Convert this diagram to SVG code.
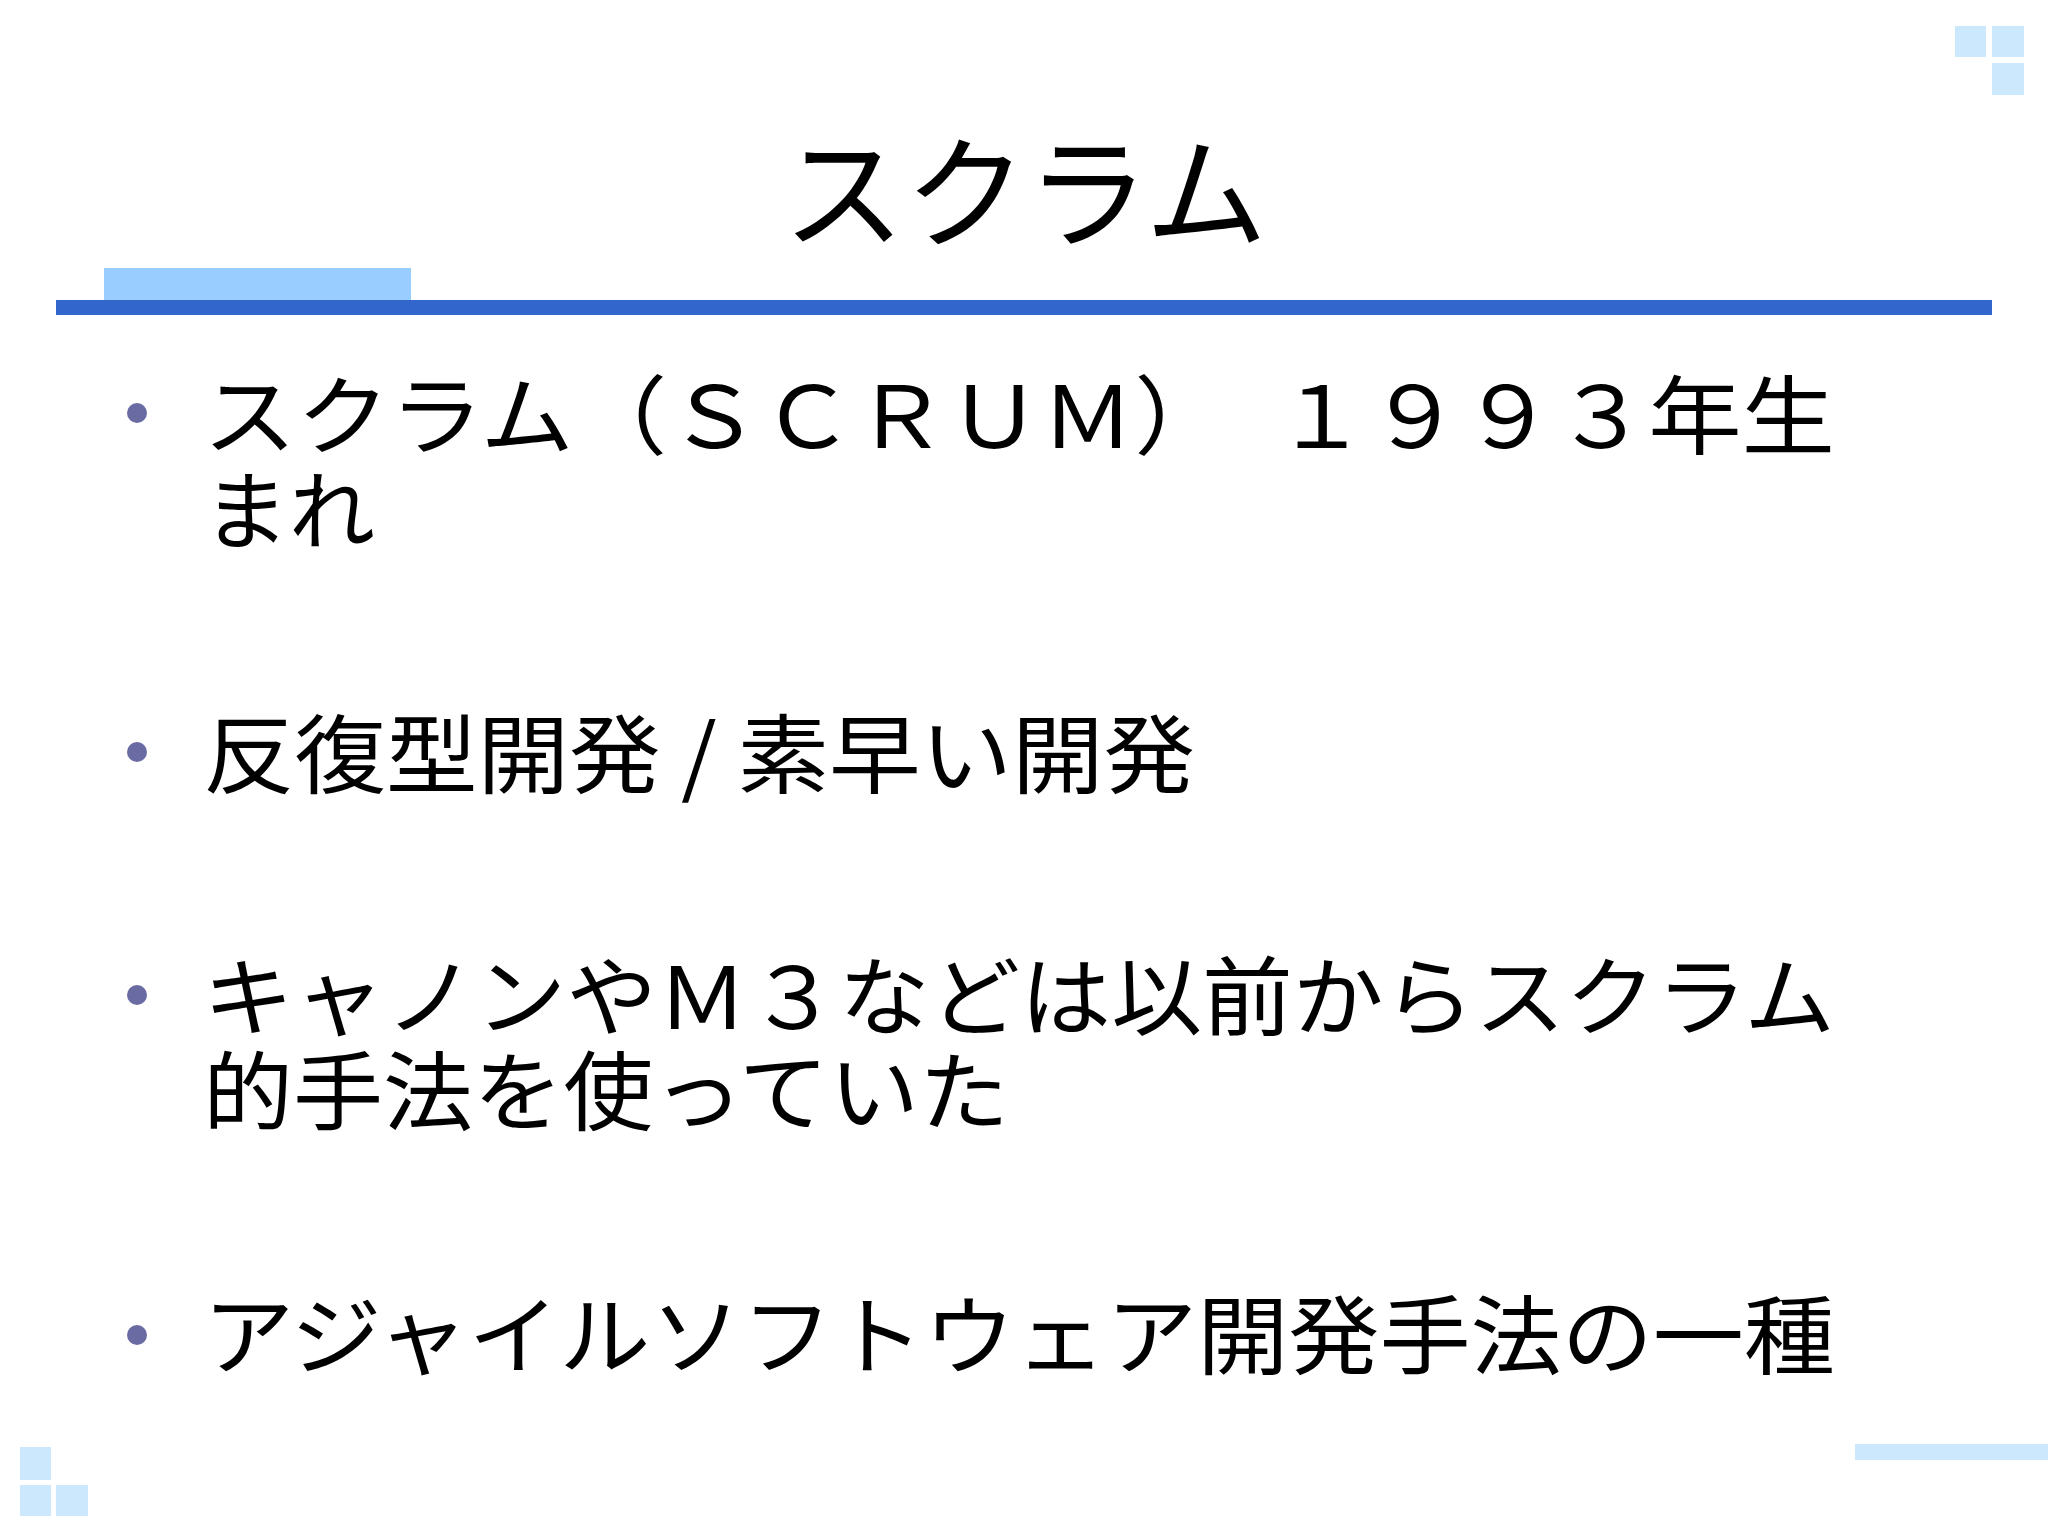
<svg xmlns="http://www.w3.org/2000/svg" width="2048" height="1536" viewBox="0 0 2048 1536">
<style>
.t{font-family:"Noto Sans CJK JP","Liberation Sans",sans-serif;fill:#000}
.b{font-size:86px}
.sq{fill:#cce8fc}
.dot{fill:#6b6ba3}
</style>
<rect width="2048" height="1536" fill="#fff"/>
<g id="deco">
<rect class="sq" x="1955" y="26" width="31" height="31"/>
<rect class="sq" x="1992" y="26" width="32" height="31"/>
<rect class="sq" x="1992" y="63" width="32" height="32"/>
<rect class="sq" x="20" y="1447" width="31" height="33"/>
<rect class="sq" x="20" y="1485" width="31" height="31"/>
<rect class="sq" x="56" y="1485" width="32" height="31"/>
<rect class="sq" x="1855" y="1444" width="193" height="16"/>
<rect x="104" y="268" width="307" height="33" fill="#99ccff"/>
<rect x="56" y="300" width="1936" height="15" fill="#3366cc"/>
</g>
<g id="title"><text class="t" x="1025" y="238" font-size="122" text-anchor="middle">スクラム</text></g>
<g id="bullets">
<circle class="dot" cx="137" cy="413" r="10"/>
<circle class="dot" cx="137" cy="752" r="10"/>
<circle class="dot" cx="137" cy="995" r="10"/>
<circle class="dot" cx="137" cy="1335" r="10"/>
<text class="t b" x="203" y="448" textLength="1632" lengthAdjust="spacingAndGlyphs">スクラム（ＳＣＲＵＭ）　１９９３年生</text>
<text class="t b" x="203" y="543">まれ</text>
<text class="t b" x="203" y="787" textLength="992" lengthAdjust="spacingAndGlyphs">反復型開発 / 素早い開発</text>
<text class="t b" x="203" y="1029" textLength="1632" lengthAdjust="spacingAndGlyphs">キャノンやＭ３などは以前からスクラム</text>
<text class="t b" x="203" y="1124" textLength="806" lengthAdjust="spacingAndGlyphs">的手法を使っていた</text>
<text class="t b" x="203" y="1368" textLength="1632" lengthAdjust="spacingAndGlyphs">アジャイルソフトウェア開発手法の一種</text>
</g>
</svg>
